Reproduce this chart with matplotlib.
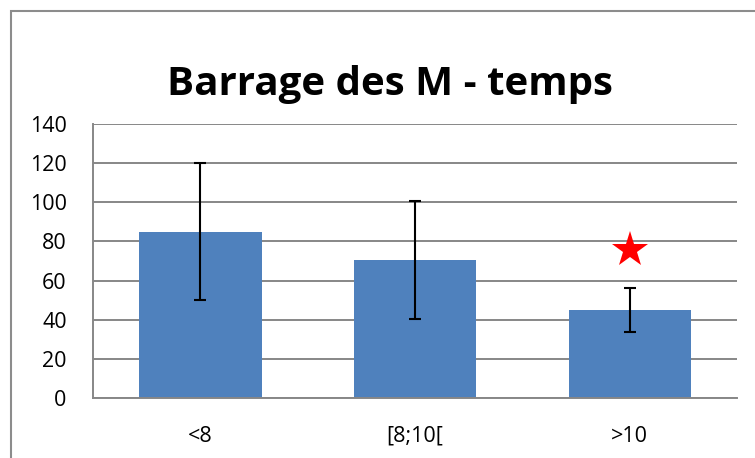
import matplotlib.pyplot as plt
from matplotlib.patches import Rectangle

categories = ['<8', '[8;10[', '>10']
means = [85, 70.5, 45]
errors = [35, 30.3, 11.1]
star_cat = 2
star_value = 75.6

fig = plt.figure(figsize=(7.55, 4.58), dpi=100)
ax = fig.add_axes([0.1232, 0.131, 0.853, 0.598])

x = range(len(categories))
ax.bar(x, means, width=0.57, color='#4F81BD', zorder=2)
ax.errorbar(x, means, yerr=errors, fmt='none', ecolor='black',
            elinewidth=1.5, capsize=4.3, capthick=1.5, zorder=3)
ax.plot([star_cat], [star_value], marker='*', color='red', ms=27,
        markeredgewidth=0, linestyle='none', zorder=4)

ax.set_xlim(-0.5, 2.5)
ax.set_ylim(0, 140)
ax.set_yticks(range(0, 141, 20))
ax.set_xticks(list(x))
ax.set_xticklabels(categories)
ax.yaxis.grid(True, color='#878787', linewidth=1.4, zorder=0)
ax.set_axisbelow(True)
for s in ['top', 'right']:
    ax.spines[s].set_visible(False)
for s in ['left', 'bottom']:
    ax.spines[s].set_color('#878787')
    ax.spines[s].set_linewidth(1.4)
ax.tick_params(length=0, labelsize=15.5)
ax.tick_params(axis='y', pad=19)
ax.tick_params(axis='x', pad=20)
for lab in ax.get_xticklabels() + ax.get_yticklabels():
    lab.set_family('Open Sans')

fig.text(0.516, 1 - 95 / 458, 'Barrage des M - temps', ha='center',
         va='baseline', fontsize=29, fontweight='bold', family='Open Sans')

# chart border (goes beyond the right and bottom edges)
fig.patches.append(Rectangle((11 / 755, -0.05), 1.1, 1 - 11 / 458 + 0.05,
                             transform=fig.transFigure, fill=False,
                             edgecolor='#8c8c8c', linewidth=1.5))

fig.savefig('out.png', dpi=100)
